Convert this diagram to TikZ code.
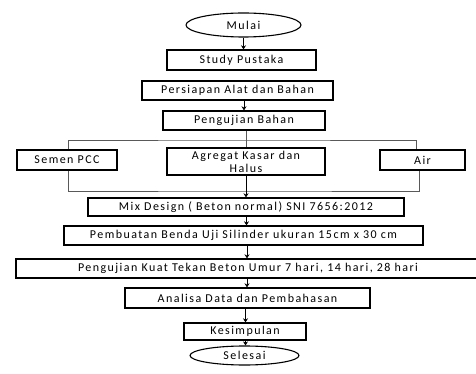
\documentclass[tikz,border=0pt]{standalone}
\usepackage{fontspec}
\setmainfont{Carlito}
\newfontfamily\flowfont{Carlito}[LetterSpace=12]
\usepackage{tikz}
\usetikzlibrary{arrows.meta,positioning,shapes.geometric}

\begin{document}
\begin{tikzpicture}[
    x=1pt, y=-1pt,
    pbox/.style={draw, line width=1.3pt, minimum height=19pt, inner sep=1pt, font=\flowfont\fontsize{12}{13}\selectfont},
    term/.style={draw, ellipse, line width=1.1pt, inner sep=1pt, font=\flowfont\fontsize{12}{13}\selectfont},
    arrow/.style={-{Stealth[length=4pt, width=5pt]}, line width=0.9pt},
    link/.style={draw=black!65, line width=0.6pt}
]
\useasboundingbox (0,0) rectangle (476,374);

% === Start ===
\node[term, minimum width=115pt, minimum height=24pt] (mulai) at (243.5, 25) {Mulai};
\node[pbox, minimum width=149pt, minimum height=20pt] (study) at (241.5, 60) {Study Pustaka};
\node[pbox, minimum width=191pt] (persiapan) at (237.5, 90.5) {Persiapan Alat dan Bahan};
\node[pbox, minimum width=162pt] (uji) at (244, 120.5) {Pengujian Bahan};

\draw[arrow] (mulai) -- (mulai |- study.north);
\draw[arrow] (persiapan.south -| uji) -- (uji.north);

% === Materials ===
\node[pbox, minimum width=100pt, minimum height=20pt] (semen) at (67, 160) {Semen PCC};
\node[pbox, minimum width=158pt, minimum height=27pt, align=center] (agregat) at (246, 161.5) {Agregat Kasar dan\\Halus};
\node[pbox, minimum width=85pt, minimum height=20pt] (air) at (422.5, 160) {Air};

\coordinate (split) at (246, 140);
\coordinate (join) at (246, 191);

\draw[link] (uji.south -| agregat) -- (agregat.north);
\draw[link] ([xshift=1pt]semen.north) |- (split) -| ([xshift=-6.5pt]air.north);
\draw[link] ([xshift=1pt]semen.south) |- (join) -| ([xshift=-3.5pt]air.south);

% === Process ===
\node[pbox, minimum width=316pt, minimum height=18pt] (mix) at (246, 207) {Mix Design ( Beton normal) SNI 7656:2012};
\node[pbox, minimum width=359pt] (buat) at (243.5, 235.5) {Pembuatan Benda Uji Silinder ukuran 15cm x 30 cm};
\node[pbox, minimum width=464pt] (kuat) at (248, 268.5) {Pengujian Kuat Tekan Beton Umur 7 hari, 14 hari, 28 hari};
\node[pbox, minimum width=245pt, minimum height=20pt] (analisa) at (247.5, 298) {Analisa Data dan Pembahasan};
\node[pbox, minimum width=122pt, minimum height=17pt] (simpul) at (245, 331.5) {Kesimpulan};
\node[term, minimum width=109pt, minimum height=19pt] (selesai) at (244.5, 355.5) {Selesai};

\draw[arrow] (agregat.south) -- (mix.north -| agregat);
\draw[arrow] (mix.south -| 246.5,0) -- (buat.north -| 246.5,0);
\draw[arrow] (buat.south -| 247,0) -- (kuat.north -| 247,0);
\draw[arrow] (kuat.south -| 247,0) -- (analisa.north -| 247,0);
\draw[arrow] (analisa.south -| 245.5,0) -- (simpul.north -| 245.5,0);
\draw[arrow] (simpul.south -| 245.5,0) -- (selesai.north -| 245.5,0);

\end{tikzpicture}
\end{document}
